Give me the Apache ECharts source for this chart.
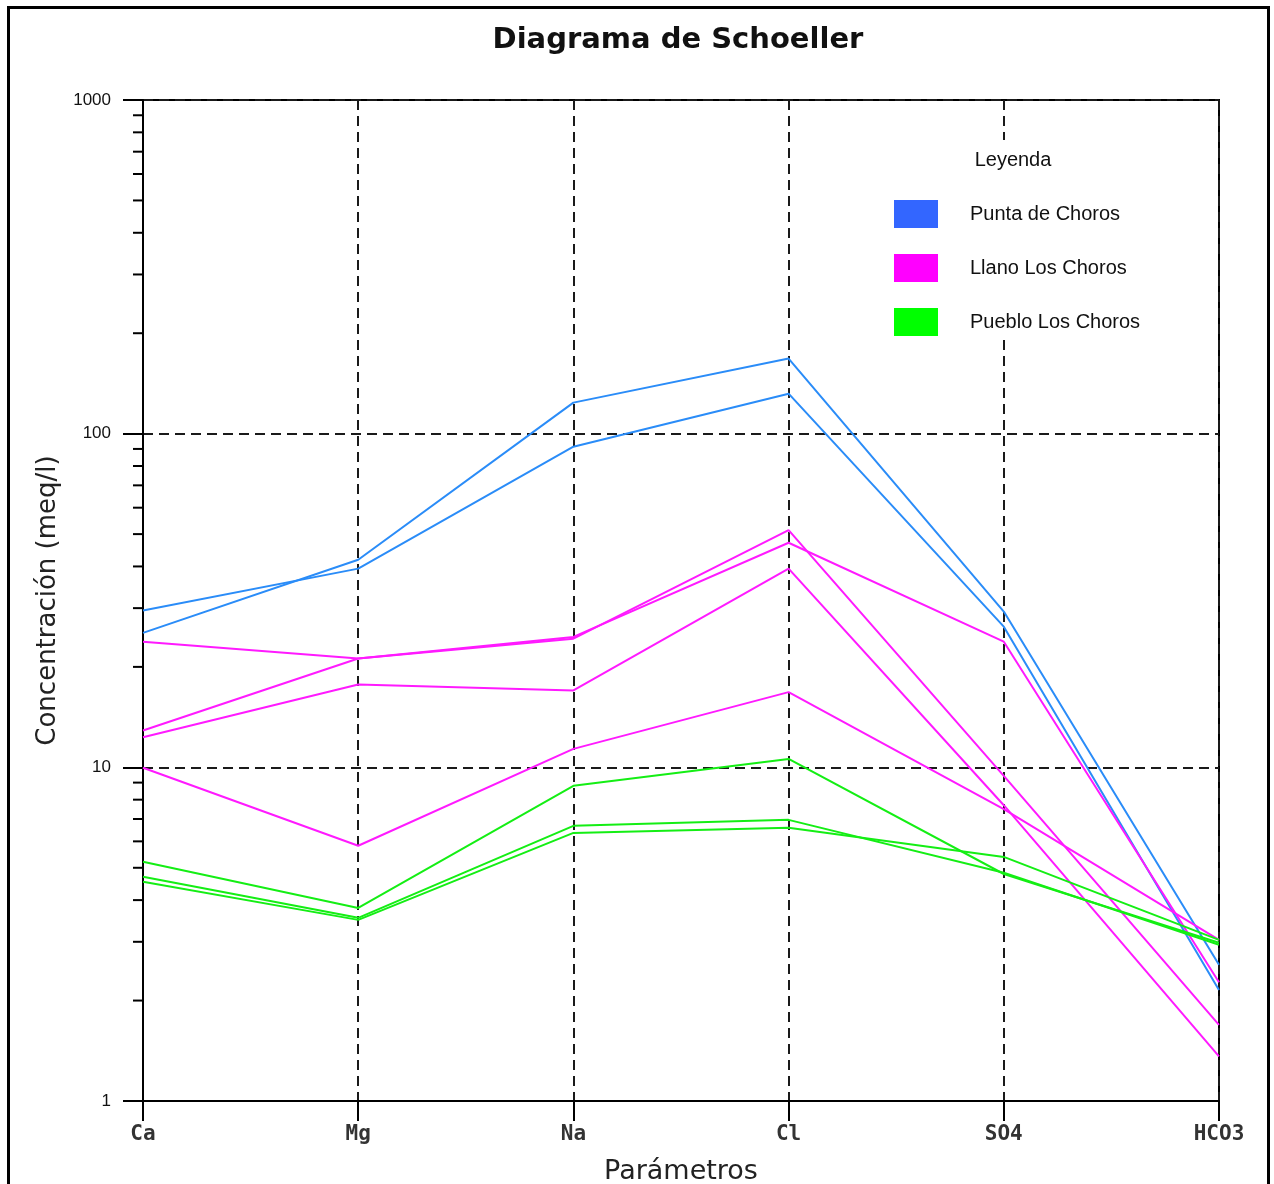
<!DOCTYPE html>
<html><head><meta charset="utf-8">
<script src="https://cdn.jsdelivr.net/npm/echarts@6/dist/echarts.min.js"></script>
<style>html,body{margin:0;padding:0;background:#fff}#c{width:1274px;height:1184px}</style>
</head><body><div id="c"></div>
<script>
// ---- Data ----
const categories = ['Ca', 'Mg', 'Na', 'Cl', 'SO4', 'HCO3'];

const puntaA = [29.5, 39.4, 91.4, 131.8, 26.4, 2.15];
const puntaB = [25.3, 41.9, 123.9, 167.9, 29.3, 2.56];

const llanoA = [23.8, 21.2, 24.6, 47.1, 23.8, 2.27];
const llanoB = [12.9, 21.2, 24.3, 51.4, 9.43, 1.69];
const llanoC = [12.3, 17.7, 17.0, 39.4, 7.7, 1.36];
const llanoD = [9.97, 5.82, 11.36, 16.8, 7.5, 3.04];

const puebloA = [5.21, 3.79, 8.80, 10.6, 4.79, 2.98];
const puebloB = [4.70, 3.54, 6.68, 6.96, 4.83, 2.94];
const puebloC = [4.54, 3.49, 6.36, 6.59, 5.39, 3.04];

const minorTickValues = [2, 3, 4, 5, 6, 7, 8, 9, 20, 30, 40, 50, 60, 70, 80, 90, 200, 300, 400, 500, 600, 700, 800, 900];

const legendNames = ['Punta de Choros', 'Llano Los Choros', 'Pueblo Los Choros'];
const legendColors = ['#3366ff', '#ff00ff', '#00ff00'];
const lineColors = ['#2a8cf8', '#ff1aff', '#14ee14'];

const titleText = 'Diagrama de Schoeller';
const yName = 'Concentración (meq/l)';
const xName = 'Parámetros';
const legendTitle = 'Leyenda';

// ---- Chart ----
const chart = echarts.init(document.getElementById('c'), null, { renderer: 'canvas' });

function lineSeries(name, data, color) {
  return {
    name: name, type: 'line', data: data, symbol: 'none', showSymbol: false,
    lineStyle: { color: color, width: 2 }, itemStyle: { color: color },
    emphasis: { disabled: true }, silent: true, z: 2
  };
}

const dashed = { color: '#1a1a1a', width: 2, type: [10, 6] };

const legendGraphics = [
  { type: 'rect', shape: { x: 880, y: 140, width: 285, height: 198 }, style: { fill: '#fff' }, z: 50 },
  { type: 'text', x: 1013, y: 160, style: { text: legendTitle, fontSize: 20, fontFamily: 'Liberation Sans', fill: '#111', align: 'center', verticalAlign: 'middle' }, z: 51 }
];
legendNames.forEach(function (n, i) {
  const cy = 214 + i * 54;
  legendGraphics.push({ type: 'rect', shape: { x: 894, y: cy - 14, width: 44, height: 28 }, style: { fill: legendColors[i] }, z: 51 });
  legendGraphics.push({ type: 'text', x: 970, y: cy, style: { text: n, fontSize: 20, fontFamily: 'Liberation Sans', fill: '#111', align: 'left', verticalAlign: 'middle' }, z: 51 });
});

const option = {
  animation: false,
  backgroundColor: '#fff',
  title: {
    text: titleText, left: 673, top: 21, textAlign: 'center',
    textStyle: { fontFamily: 'DejaVu Sans', fontWeight: 'bold', fontSize: 29, color: '#111' }
  },
  grid: {
    left: 143, right: 55, top: 100, bottom: 83, outerBoundsMode: 'none', containLabel: false,
    show: true, borderColor: '#000', borderWidth: 2, backgroundColor: 'transparent'
  },
  xAxis: {
    type: 'category', data: categories, boundaryGap: false,
    axisLine: { show: true, lineStyle: { color: '#000', width: 2 } },
    axisTick: { show: true, length: 20, inside: false, alignWithLabel: true, lineStyle: { color: '#000', width: 2 } },
    axisLabel: { margin: 23, interval: 0, fontFamily: 'DejaVu Sans Mono', fontWeight: 'bold', fontSize: 21, color: '#333' },
    splitLine: { show: true, interval: 0, lineStyle: dashed },
    name: xName, nameLocation: 'middle', nameGap: 57,
    nameTextStyle: { fontFamily: 'DejaVu Sans', fontSize: 27, color: '#222' }
  },
  yAxis: {
    type: 'log', logBase: 10, min: 1, max: 1000,
    axisLine: { show: true, lineStyle: { color: '#000', width: 2 } },
    axisTick: { show: true, length: 20, inside: false, lineStyle: { color: '#000', width: 2 } },
    axisLabel: { margin: 32, fontFamily: 'Liberation Sans', fontSize: 17, color: '#111', formatter: function (v) { return String(v); } },
    splitLine: { show: true, lineStyle: dashed },
    name: yName, nameLocation: 'middle', nameGap: 82, nameRotate: 90,
    nameTextStyle: { fontFamily: 'DejaVu Sans', fontSize: 26, color: '#222' }
  },
  graphic: [
    { type: 'rect', shape: { x: 8.5, y: 7.5, width: 1260, height: 1200 }, style: { fill: 'transparent', stroke: '#000', lineWidth: 3 }, z: 60 }
  ].concat(legendGraphics),
  series: [
    lineSeries(legendNames[0], puntaA, lineColors[0]),
    lineSeries(legendNames[0], puntaB, lineColors[0]),
    lineSeries(legendNames[1], llanoA, lineColors[1]),
    lineSeries(legendNames[1], llanoB, lineColors[1]),
    lineSeries(legendNames[1], llanoC, lineColors[1]),
    lineSeries(legendNames[1], llanoD, lineColors[1]),
    lineSeries(legendNames[2], puebloA, lineColors[2]),
    lineSeries(legendNames[2], puebloB, lineColors[2]),
    lineSeries(legendNames[2], puebloC, lineColors[2]),
    {
      type: 'custom', clip: false, silent: true, z: 3,
      data: minorTickValues.map(function (v) { return [0, v]; }),
      encode: { x: 0, y: 1 },
      renderItem: function (params, api) {
        const p = api.coord([api.value(0), api.value(1)]);
        return { type: 'line', shape: { x1: p[0] - 10, y1: p[1], x2: p[0], y2: p[1] }, style: { stroke: '#000', lineWidth: 2 } };
      }
    }
  ]
};
chart.setOption(option);
</script>
</body></html>
